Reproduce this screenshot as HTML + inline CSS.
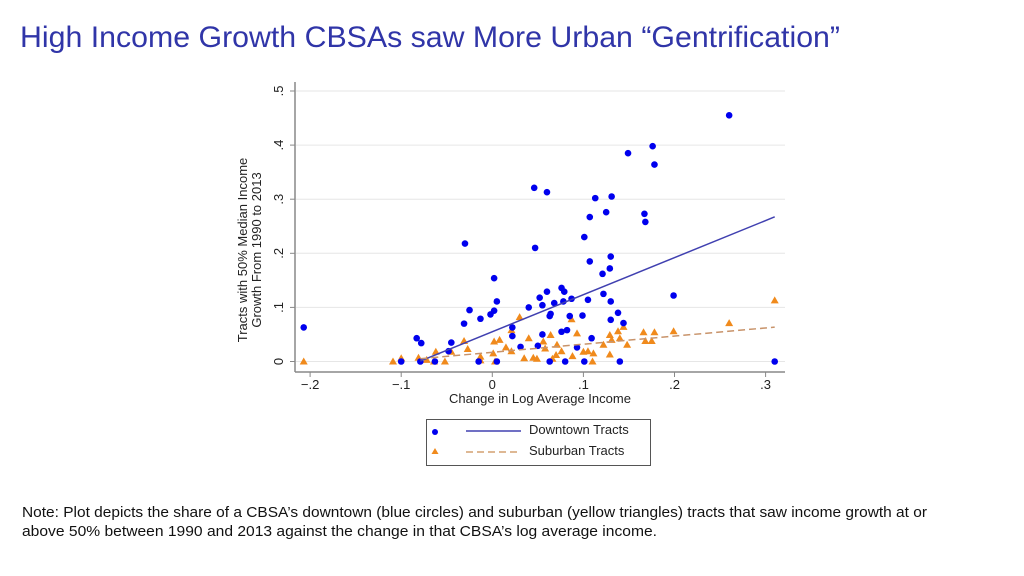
<!DOCTYPE html>
<html><head><meta charset="utf-8"><style>
body{margin:0;background:#fff;width:1024px;height:576px;overflow:hidden}
svg{display:block;font-family:"Liberation Sans",sans-serif}
</style></head><body>
<svg id="chart" width="1024" height="576" viewBox="0 0 1024 576">
<text x="20" y="47" font-size="30" fill="#3035a8" textLength="820" lengthAdjust="spacingAndGlyphs">High Income Growth CBSAs saw More Urban “Gentrification”</text>
<g id="grid"></g>
<line x1="295" y1="82" x2="295" y2="372" stroke="#888" stroke-width="1.5"/>
<line x1="295" y1="372" x2="785" y2="372" stroke="#888" stroke-width="1.5"/>
<g id="ticks"></g>
<g id="marks"></g>
<text transform="translate(247,250) rotate(-90)" font-size="13" text-anchor="middle" fill="#222"><tspan x="0" y="0">Tracts with 50% Median Income</tspan><tspan x="0" y="14">Growth From 1990 to 2013</tspan></text>
<text x="540" y="403" font-size="13" text-anchor="middle" fill="#222">Change in Log Average Income</text>
<g>
<rect x="426.5" y="419.5" width="224" height="46" fill="#fff" stroke="#555"/>
<circle cx="435" cy="432" r="3" fill="#0000ee"/>
<line x1="466" y1="431" x2="521" y2="431" stroke="#4040b0" stroke-width="1.5"/>
<text x="529" y="434" font-size="13" fill="#222">Downtown Tracts</text>
<polygon points="435,448 431.5,454 438.5,454" fill="#f08a1c"/>
<line x1="466" y1="452" x2="521" y2="452" stroke="#d4a070" stroke-width="1.5" stroke-dasharray="7,4"/>
<text x="529" y="455" font-size="13" fill="#222">Suburban Tracts</text>
</g>
<text font-size="14.5" fill="#111"><tspan x="22" y="517" textLength="905" lengthAdjust="spacingAndGlyphs">Note: Plot depicts the share of a CBSA’s downtown (blue circles) and suburban (yellow triangles) tracts that saw income growth at or</tspan><tspan x="22" y="536" textLength="635" lengthAdjust="spacingAndGlyphs">above 50% between 1990 and 2013 against the change in that CBSA’s log average income.</tspan></text>
</svg>
<script>
const xTicks=[-0.2,-0.1,0,0.1,0.2,0.3];
const xTickLabels=["−.2","−.1","0",".1",".2",".3"];
const yTicks=[0,0.1,0.2,0.3,0.4,0.5];
const yTickLabels=["0",".1",".2",".3",".4",".5"];
const downX=[0.260,0.149,0.176,0.178,0.046,0.060,0.113,0.131,0.107,0.125,0.167,0.168,-0.030,0.101,0.047,0.107,0.130,0.129,0.121,0.002,0.199,0.076,0.079,0.060,0.052,0.055,0.068,0.078,0.087,0.105,0.122,0.130,0.040,0.005,-0.025,0.002,-0.002,-0.013,-0.031,0.064,0.063,0.085,0.099,0.138,0.130,0.144,0.022,0.022,-0.083,-0.078,-0.045,0.055,0.076,0.082,0.109,0.031,0.050,0.093,-0.048,-0.100,-0.079,-0.063,-0.015,0.005,0.063,0.080,0.101,0.140,-0.207,0.310];
const downY=[0.455,0.385,0.398,0.364,0.321,0.313,0.302,0.305,0.267,0.276,0.273,0.258,0.218,0.230,0.210,0.185,0.194,0.172,0.162,0.154,0.122,0.136,0.129,0.129,0.118,0.104,0.108,0.111,0.116,0.114,0.125,0.111,0.100,0.111,0.095,0.094,0.087,0.079,0.070,0.088,0.084,0.084,0.085,0.090,0.077,0.071,0.063,0.047,0.043,0.034,0.035,0.050,0.055,0.058,0.043,0.027,0.029,0.026,0.019,0,0,0,0,0,0,0,0,0,0.063,0];
const subX=[-0.100,-0.081,-0.062,-0.045,-0.031,-0.027,-0.013,0.002,0.008,0.001,0.021,0.021,0.030,0.040,0.045,0.056,0.064,0.071,0.076,0.087,0.093,0.100,0.105,0.111,0.122,0.129,0.131,0.129,0.138,0.140,0.144,0.148,0.166,0.168,0.178,0.175,0.199,-0.207,0.310,0.260,0.049,0.066,-0.052,-0.064,-0.109,-0.013,0.003,0.110,-0.072,0.058,0.070,0.088,0.035,0.015];
const subY=[0.006,0.007,0.018,0.018,0.038,0.023,0.009,0.037,0.040,0.015,0.019,0.058,0.082,0.043,0.007,0.037,0.049,0.031,0.019,0.078,0.052,0.018,0.019,0.015,0.031,0.049,0.040,0.013,0.056,0.043,0.064,0.031,0.054,0.038,0.054,0.038,0.056,0,0.113,0.071,0.005,0.005,0,0,0,0.002,0,0,0.003,0.024,0.012,0.010,0.006,0.026];
const fitDown=[0.055,0.685];
const fitSub=[0.017,0.150];
const fitRange=[-0.079,0.31];
const NS="http://www.w3.org/2000/svg";
const sx=v=>492.3+v*911;
const sy=v=>361.5-v*541;
function mk(tag,attrs,parent){const e=document.createElementNS(NS,tag);for(const k in attrs)e.setAttribute(k,attrs[k]);document.getElementById(parent).appendChild(e);return e;}
yTicks.forEach((t,i)=>{
 const g=mk('line',{x1:296,x2:785,y1:sy(t),y2:sy(t),stroke:'#e6e6e6','stroke-width':1},'grid');
 
 
 const tk=mk('line',{x1:290,x2:295,y1:sy(t),y2:sy(t),stroke:'#888'},'ticks');
 
 
 const tx=mk('text',{transform:`translate(283,${sy(t)}) rotate(-90)`,'font-size':13,'text-anchor':'middle',fill:'#222'},'ticks');
 tx.textContent=yTickLabels[i];
 
 
});
xTicks.forEach((t,i)=>{
 const tk=mk('line',{x1:sx(t),x2:sx(t),y1:372,y2:377,stroke:'#888'},'ticks');
 
 
 const tx=mk('text',{x:sx(t),y:389,'font-size':13,'text-anchor':'middle',fill:'#222'},'ticks');
 tx.textContent=xTickLabels[i];
 
 
});
subX.forEach((x,i)=>{
 const cx=sx(x),cy=sy(subY[i]);
 const p=mk('polygon',{points:`${cx},${cy-4} ${cx-4},${cy+3} ${cx+4},${cy+3}`,fill:'#f08a1c'},'marks');
 
 
});
downX.forEach((x,i)=>{
 const c=mk('circle',{cx:sx(x),cy:sy(downY[i]),r:3.3,fill:'#0000ee'},'marks');
 
 
});
const l1=mk('line',{x1:sx(fitRange[0]),y1:sy(fitDown[0]+fitDown[1]*fitRange[0]),x2:sx(fitRange[1]),y2:sy(fitDown[0]+fitDown[1]*fitRange[1]),stroke:'#4040b0','stroke-width':1.5},'marks');


const l2=mk('line',{x1:sx(fitRange[0]),y1:sy(fitSub[0]+fitSub[1]*fitRange[0]),x2:sx(fitRange[1]),y2:sy(fitSub[0]+fitSub[1]*fitRange[1]),stroke:'#c8936a','stroke-width':1.5,'stroke-dasharray':'7,4'},'marks');


</script>
</body></html>
